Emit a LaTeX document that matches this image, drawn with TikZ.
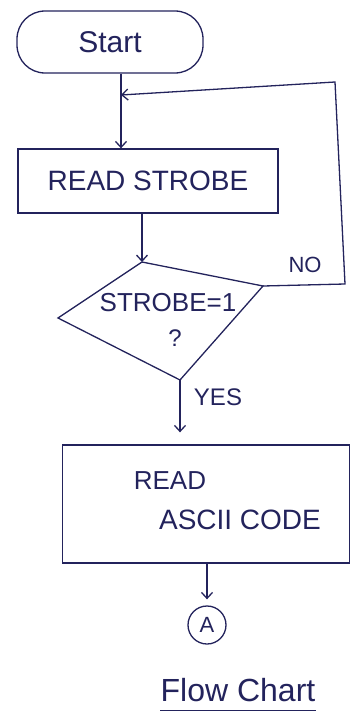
\documentclass[tikz,border=0pt]{standalone}
\usepackage{fontspec}
\setmainfont{Liberation Sans}
\usetikzlibrary{arrows.meta}
\definecolor{ink}{HTML}{23235C}
\begin{document}
\begin{tikzpicture}[x=1pt,y=-1pt,
  every path/.style={line width=1.3pt},
  ink/.style={draw=ink, text=ink},
  term/.style={ink, rounded corners=28pt, minimum width=186pt, minimum height=62pt, font=\fontsize{30}{30}\selectfont},
  procbox/.style={ink, rectangle, inner sep=0pt},
  lbl/.style={text=ink, inner sep=0pt},
  conn/.style={draw=ink, line width=1.3pt},
  arr/.style={conn, -{Straight Barb[length=6pt, width=11pt]}}]
\useasboundingbox (0,0) rectangle (358,720);

\node[term] (start) at (110,42) {Start};
\node[procbox, minimum width=260pt, minimum height=64pt, font=\fontsize{28}{28}\selectfont] (rs) at (148,181) {READ STROBE};

\coordinate (dt) at (142,262);
\coordinate (dl) at (58,318);
\coordinate (dr) at (263,286);
\coordinate (db) at (180,380);
\draw[conn] (dt) -- (dr) -- (db) -- (dl) -- cycle;
\node[lbl, font=\fontsize{26}{26}\selectfont] (cond) at (168,303) {STROBE=1};
\node[lbl, font=\fontsize{24}{24}\selectfont] (q) at (175,338) {?};

\node[procbox, minimum width=287pt, minimum height=118pt] (ra) at (206,504) {};
\node[lbl, font=\fontsize{26}{26}\selectfont] (t1) at (170,481) {READ};
\node[lbl, font=\fontsize{28}{28}\selectfont] (t2) at (240,520) {ASCII CODE};

\node[ink, circle, minimum size=38pt, inner sep=0pt, font=\fontsize{22}{22}\selectfont] (A) at (207,625) {A};

\node[lbl, font=\fontsize{32}{32}\selectfont] (title) at (238,690) {Flow Chart};
\draw[conn] ([yshift=-8pt]title.south west) -- ([yshift=-8pt]title.south east);

\coordinate (j) at (121,95);
\coordinate (c1) at (345,284);
\coordinate (c2) at (335,82);

\draw[arr] (start.south -| j) -- (j |- rs.north);
\draw[arr] (dr) -- (c1) -- (c2) -- (j);
\draw[arr] (dt |- rs.south) -- (dt);
\draw[arr, shorten >=12pt] (db) -- (db |- ra.north);
\draw[arr, shorten >=6pt] (A |- ra.south) -- (A.north);

\node[lbl, font=\fontsize{22}{22}\selectfont] (no) at (305,265) {NO};
\node[lbl, font=\fontsize{24}{24}\selectfont] (yes) at (218,397) {YES};
\end{tikzpicture}
\end{document}
